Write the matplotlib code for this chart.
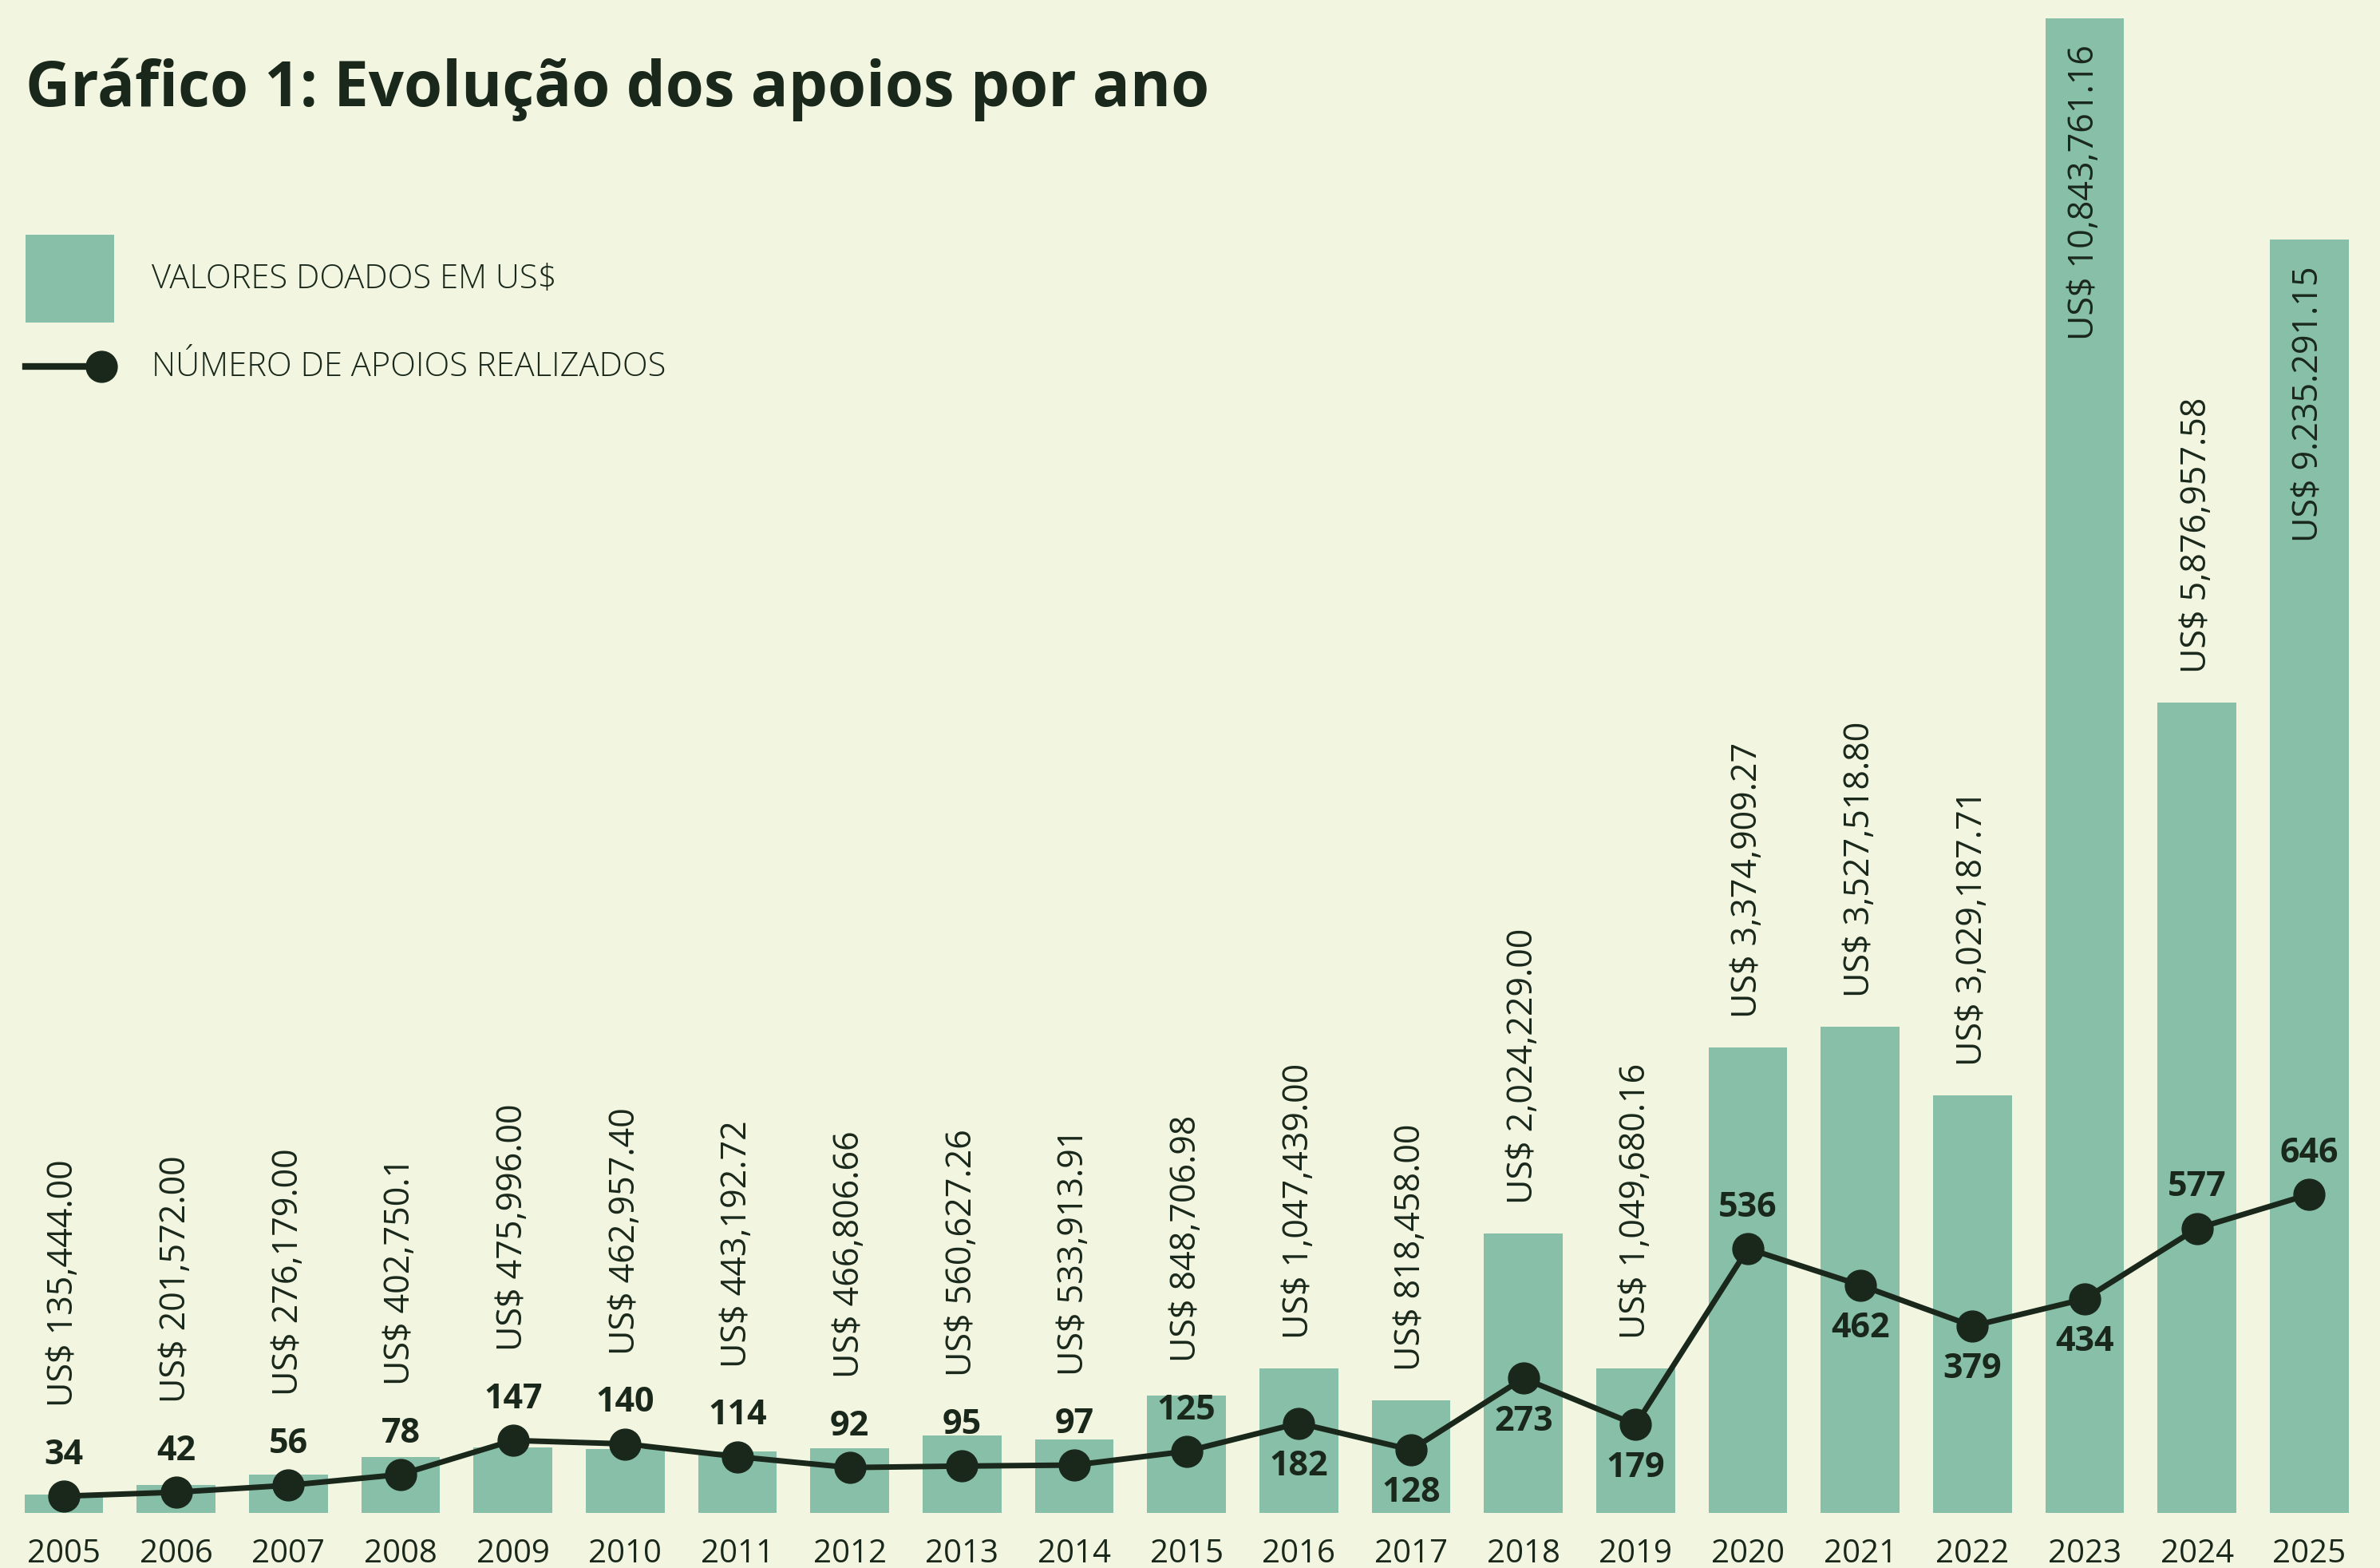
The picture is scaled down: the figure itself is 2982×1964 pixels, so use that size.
"""
Gráfico 1: evolução dos apoios por ano (valores doados e número de apoios)
"""

import matplotlib.pyplot as plt
from matplotlib.patches import Rectangle
from matplotlib.lines import Line2D

# dados
anos = ['2005', '2006', '2007', '2008', '2009', '2010', '2011', '2012', '2013', '2014',
        '2015', '2016', '2017', '2018', '2019', '2020', '2021', '2022', '2023', '2024', '2025']

valores = [135444.00, 201572.00, 276179.00, 402750.10, 475996.00, 462957.40, 443192.72,
           466806.66, 560627.26, 533913.91, 848706.98, 1047439.00, 818458.00, 2024229.00,
           1049680.16, 3374909.27, 3527518.80, 3029187.71, 10843761.16, 5876957.58, 9235291.15]

rotulos_valores = ['US$ 135,444.00', 'US$ 201,572.00', 'US$ 276,179.00', 'US$ 402,750.1',
                   'US$ 475,996.00', 'US$ 462,957.40', 'US$ 443,192.72', 'US$ 466,806.66',
                   'US$ 560,627.26', 'US$ 533,913.91', 'US$ 848,706.98', 'US$ 1,047,439.00',
                   'US$ 818,458.00', 'US$ 2,024,229.00', 'US$ 1,049,680.16', 'US$ 3,374,909.27',
                   'US$ 3,527,518.80', 'US$ 3,029,187.71', 'US$ 10,843,761.16', 'US$ 5,876,957.58',
                   'US$ 9.235.291.15']

apoios = [34, 42, 56, 78, 147, 140, 114, 92, 95, 97, 125, 182, 128, 273, 179,
          536, 462, 379, 434, 577, 646]

# anos em que o número fica abaixo do ponto
rotulo_abaixo = ['2016', '2017', '2018', '2019', '2021', '2022', '2023']

FUNDO = '#F2F6E0'
VERDE = '#88BFA8'
ESCURO = '#1A281C'

plt.rcParams['font.family'] = ['Open Sans', 'DejaVu Sans']
plt.rcParams['text.parse_math'] = False

W, H = 2982, 1965
fig = plt.figure(figsize=(W / 100, H / 100), dpi=100, facecolor=FUNDO)

# eixo principal: barras
ax = fig.add_axes([0, 69 / H, 1, 1896 / H])
ax.set_facecolor('none')
x = list(range(len(anos)))
ax.bar(x, valores, width=0.7, color=VERDE, zorder=1)
ax.set_xlim(-0.569, 20.63)
ax.set_ylim(0, 1.098e7)
ax.set_xticks(x, anos)
ax.set_yticks([])
ax.tick_params(axis='x', length=0, pad=22, labelsize=29, labelcolor=ESCURO)
for s in ax.spines.values():
    s.set_visible(False)

# eixo secundário: número de apoios
ax2 = ax.twinx()
ax2.set_ylim(0, 3070)
ax2.set_yticks([])
for s in ax2.spines.values():
    s.set_visible(False)
ax2.plot(x, apoios, color=ESCURO, lw=5, marker='o', ms=28, zorder=3)

for i, (ano, n) in enumerate(zip(anos, apoios)):
    dy = -38 if ano in rotulo_abaixo else 38
    ax2.annotate(str(n), (i, n), xytext=(0, dy), textcoords='offset points',
                 ha='center', va='center', fontsize=31, fontweight='bold',
                 color=ESCURO)

# rótulos dos valores (verticais)
fig.canvas.draw()
renderer = fig.canvas.get_renderer()
for i, (ano, v, n, rot) in enumerate(zip(anos, valores, apoios, rotulos_valores)):
    topo_barra = ax.transData.transform((i, v))[1]
    ponto = ax2.transData.transform((i, n))[1]
    if ano in rotulo_abaixo:
        topo_ponto = ponto + 20
    else:
        topo_ponto = ponto + 75
    base = max(topo_barra, topo_ponto) + 38
    t = ax.text(i, ax.transData.inverted().transform((0, base))[1], rot,
                rotation=90, ha='center', va='bottom', fontsize=31, color=ESCURO)
    comp = t.get_window_extent(renderer).height
    if base + comp > H:
        # não cabe acima da barra: vai para dentro, junto ao topo
        t.set_y(ax.transData.inverted().transform((0, topo_barra - 32))[1])
        t.set_va('top')

# título
fig.text(32 / W, 1 - 133 / H, 'Gráfico 1: Evolução dos apoios por ano',
         fontsize=56, fontweight='bold', fontstretch='condensed', color=ESCURO,
         va='baseline', ha='left')

# legenda manual
fig.add_artist(Rectangle((32 / W, 1 - 405 / H), 111 / W, 110 / H,
                         transform=fig.transFigure, color=VERDE, lw=0))
fig.add_artist(Line2D([32 / W, 127 / W], [1 - 460 / H, 1 - 460 / H],
                      transform=fig.transFigure, color=ESCURO, lw=6))
fig.add_artist(Line2D([127 / W], [1 - 460 / H], transform=fig.transFigure,
                      marker='o', ms=28, color=ESCURO, lw=0))
fig.text(190 / W, 1 - 350 / H, 'VALORES DOADOS EM US$', fontsize=30,
         fontweight='light', color=ESCURO, va='center', ha='left')
fig.text(190 / W, 1 - 460 / H, 'NÚMERO DE APOIOS REALIZADOS', fontsize=30,
         fontweight='light', color=ESCURO, va='center', ha='left')

fig.savefig('out.png', dpi=100, facecolor=FUNDO)
